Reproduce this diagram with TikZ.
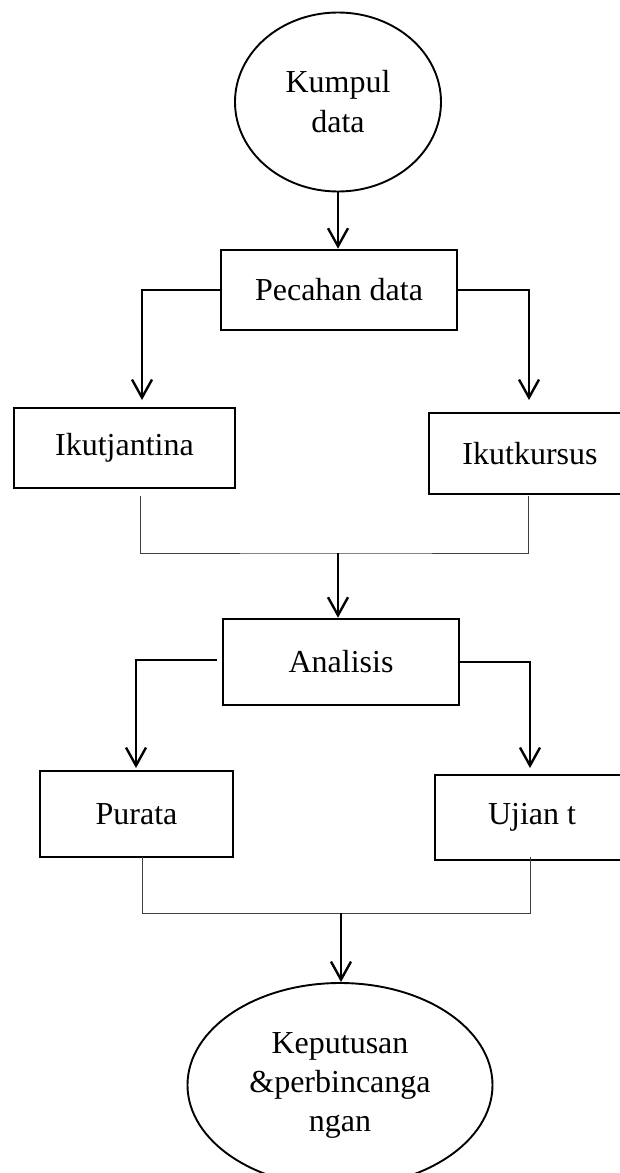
\documentclass[tikz,border=0pt]{standalone}
\usepackage{fontspec}
\setmainfont{Liberation Serif}
\usetikzlibrary{shapes.geometric,arrows.meta}
\begin{document}
\begin{tikzpicture}[x=1pt,y=-1pt,
  boxnode/.style={draw=black,line width=2.6pt,rectangle,inner sep=0pt,align=center,font=\fontsize{32}{38}\selectfont},
  ovalnode/.style={draw=black,line width=1.9pt,ellipse,inner sep=0pt,align=center,font=\fontsize{32}{39}\selectfont},
  arr/.style={line width=2.4pt,-{Straight Barb[length=18pt,width=20pt]}},
  thinline/.style={line width=1pt,draw=black!75}]
\useasboundingbox (0,0) rectangle (620,1173);
\clip (0,0) rectangle (620,1173);
% nodes
\node[ovalnode,minimum width=206pt,minimum height=179pt] (kd) at (338,102) {\raisebox{-4pt}{Kumpul}\\[1pt]\raisebox{-4pt}{data}};
\node[boxnode,minimum width=236pt,minimum height=80pt] (pec) at (339,290) {Pecahan data};
\node[boxnode,minimum width=221pt,minimum height=80pt] (ikj) at (124.5,448) {\raisebox{-3pt}{Ikutjantina}};
\node[boxnode,minimum width=202pt,minimum height=81pt] (iku) at (530,453.5) {Ikutkursus};
\node[boxnode,minimum width=236pt,minimum height=86pt] (ana) at (341,662) {Analisis};
\node[boxnode,minimum width=193pt,minimum height=86pt] (pur) at (136.5,814) {Purata};
\node[boxnode,minimum width=194pt,minimum height=85pt] (uji) at (532,817.5) {Ujian t};
\node[ovalnode,minimum width=305pt,minimum height=204pt] (kep) at (340,1085) {Keputusan\\\&perbincanga\\ngan};
% coordinates
\coordinate (t1) at (142,400);
\coordinate (t2) at (529,400);
\coordinate (j1) at (140,496);
\coordinate (j2) at (528,496);
\coordinate (m1) at (338,553);
\coordinate (a1) at (217,660);
\coordinate (t3) at (136,768);
\coordinate (t4) at (530,768);
\coordinate (k1) at (142,857);
\coordinate (k2) at (530,857);
\coordinate (m2) at (341,913);
% connectors
\draw[arr] (kd.south) -- (kd.south |- pec.north);
\draw[arr] (pec.west) -| (t1);
\draw[arr] (pec.east) -| (t2);
\draw[thinline] (j1) |- (m1) -| (j2);
\draw[arr] (m1) -- (m1 |- ana.north);
\draw[arr] (a1) -| (t3);
\draw[arr] (ana.east) -| (t4);
\draw[thinline] (k1) |- (m2) -| (k2);
\draw[arr] (m2) -- (m2 |- kep.north);
\end{tikzpicture}
\end{document}
